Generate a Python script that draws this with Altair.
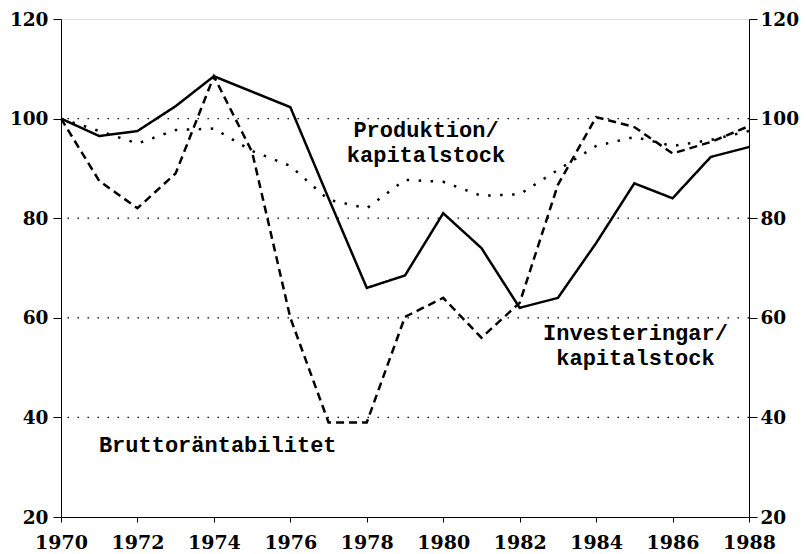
import altair as alt
import pandas as pd

years = list(range(1970, 1989))
invest = [100, 96.5, 97.5, 102.5, 108.5, 105.4, 102.3, 84, 66, 68.5, 81, 74, 62, 64, 75, 87, 84, 92.3, 94.3]
brutto = [100, 87.5, 82, 89, 108.5, 93.3, 60, 39, 39, 60.2, 64, 56, 63, 86.7, 100.3, 98.3, 93, 95.3, 98.5]
prod = [100, 97.5, 95, 97.7, 98, 93.5, 90.5, 83.7, 82, 87.7, 87.3, 84.5, 84.8, 89.7, 94.5, 96.3, 94.5, 95.7, 97.5]
grid_vals = [40, 60, 80, 100]

label_text = ["Produktion/", "kapitalstock", "Investeringar/", "kapitalstock", "Bruttoräntabilitet"]
label_x = [1979.55, 1979.55, 1985.03, 1985.03, 1974.1]
label_y = [97.7, 92.7, 56.9, 51.9, 34.5]

FONT = "DejaVu Serif"
LFONT = "Liberation Mono"

rows = []
for name, vals in [("invest", invest), ("brutto", brutto), ("prod", prod)]:
    for y, v in zip(years, vals):
        rows.append({"year": y, "value": v, "series": name})
df = pd.DataFrame(rows)

xscale = alt.Scale(domain=[1970, 1988], nice=False)
yscale = alt.Scale(domain=[20, 120], nice=False)

xaxis = alt.Axis(values=years, labelExpr="datum.value % 2 == 0 ? datum.label : ''",
                 format="d", grid=False, tickSize=5, labelPadding=11,
                 labelFont=FONT, labelFontSize=19, labelFontWeight="bold",
                 labelColor="black", tickColor="black", domainColor="black",
                 title=None, labelOverlap=False, labelFlush=False)

yaxis_left = alt.Axis(values=[20, 40, 60, 80, 100, 120], grid=False, tickSize=8,
                      labelPadding=5, labelFont=FONT, labelFontSize=18.5,
                      labelFontWeight="bold", labelColor="black", tickColor="black",
                      domainColor="black", title=None, orient="left")
yaxis_right = alt.Axis(values=[20, 40, 60, 80, 100, 120], grid=False, tickSize=8,
                       labelPadding=3, labelFont=FONT, labelFontSize=18.5,
                       labelFontWeight="bold", labelColor="black", tickColor="black",
                       domainColor="black", title=None, orient="right")

grid = alt.Chart(pd.DataFrame({"g": grid_vals})).mark_rule(
    color="black", strokeWidth=1.3, strokeDash=[1.5, 8.5]
).encode(y=alt.Y("g:Q", scale=yscale, axis=yaxis_left))

lines = alt.Chart(df).mark_line(strokeWidth=2.5, color="black", strokeCap="butt").encode(
    x=alt.X("year:Q", scale=xscale, axis=xaxis),
    y=alt.Y("value:Q", scale=yscale, axis=yaxis_left),
    detail="series:N",
    strokeDash=alt.StrokeDash("series:N",
                              scale=alt.Scale(domain=["invest", "brutto", "prod"],
                                              range=[[1, 0], [8, 5], [2.5, 9.5]]),
                              legend=None),
)

labels = alt.Chart(pd.DataFrame({"t": label_text, "x": label_x, "y": label_y})).mark_text(
    font=LFONT, fontSize=22, fontWeight="bold", color="black", align="center", baseline="middle"
).encode(
    x=alt.X("x:Q", scale=xscale),
    y=alt.Y("y:Q", scale=yscale),
    text="t:N",
)

left = alt.layer(grid, lines, labels)

right = alt.Chart(pd.DataFrame({"g": [20]})).mark_rule(opacity=0).encode(
    y=alt.Y("g:Q", scale=yscale, axis=yaxis_right)
)

chart = alt.layer(left, right).resolve_scale(y="independent").properties(
    width=688, height=498,
    autosize=alt.AutoSizeParams(type="none"),
    padding={"left": 53, "top": 11, "right": 50, "bottom": 36},
).configure_view(stroke="black", strokeWidth=1.5).configure(background="white")

chart.save("out.html", embed_options={"renderer": "svg", "actions": False})
